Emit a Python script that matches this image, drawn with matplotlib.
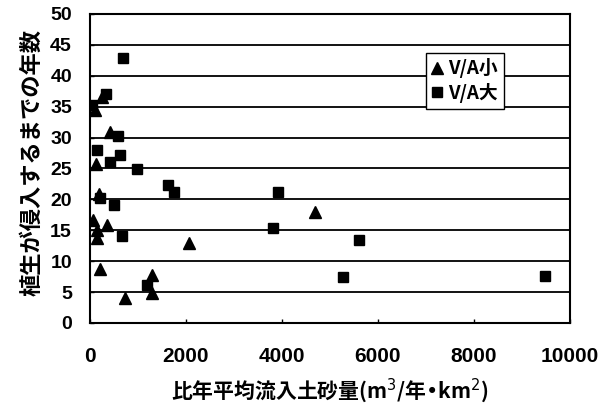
import matplotlib
matplotlib.use("Agg")
import matplotlib.pyplot as plt

plt.rcParams['font.family'] = ['Noto Sans CJK JP', 'DejaVu Sans']

# V/A small (triangles)
small_x = [243, 104, 417, 125, 187, 69, 347, 139, 139, 2069, 4688, 208, 1285, 1285, 729]
small_y = [36.6, 34.5, 30.9, 25.8, 20.8, 16.6, 15.9, 15.0, 13.8, 13.0, 18.0, 8.8, 7.8, 4.8, 4.0]

# V/A large (squares)
large_x = [694, 333, 35, 590, 139, 625, 417, 972, 1618, 1757, 200, 507, 660, 1181,
           3924, 3819, 5604, 5278, 9479]
large_y = [42.8, 37.0, 35.2, 30.2, 28.0, 27.2, 26.0, 24.9, 22.3, 21.2, 20.2, 19.1, 14.0, 6.1,
           21.2, 15.3, 13.4, 7.5, 7.6]

x_ticks = [0, 2000, 4000, 6000, 8000, 10000]
y_ticks = [0, 5, 10, 15, 20, 25, 30, 35, 40, 45, 50]

fig = plt.figure(figsize=(6.08, 4.09), dpi=100)
ax = fig.add_axes([0.148, 0.2103, 0.7895, 0.7555])

for yv in y_ticks[1:-1]:
    ax.axhline(yv, color='black', linewidth=1.3, zorder=1)

ax.plot(small_x, small_y, linestyle='none', marker='^', markersize=9,
        color='black', label='V/A小', zorder=3)
ax.plot(large_x, large_y, linestyle='none', marker='s', markersize=7,
        color='black', label='V/A大', zorder=3)

ax.set_xlim(0, 10000)
ax.set_ylim(0, 50)
ax.set_xticks(x_ticks)
ax.set_yticks(y_ticks)
ax.set_xticklabels([str(v) for v in x_ticks], family=['Liberation Sans', 'DejaVu Sans'],
                   weight='bold', size=15)
ax.set_yticklabels([str(v) for v in y_ticks], family=['Liberation Sans', 'DejaVu Sans'],
                   weight='bold', size=14)
ax.tick_params(axis='both', direction='in', length=3, width=1, color='black')
ax.tick_params(axis='x', pad=17)
ax.tick_params(axis='y', pad=13)

for sp in ax.spines.values():
    sp.set_linewidth(1.5)
    sp.set_color('black')

ax.set_xlabel('比年平均流入土砂量(m$^3$/年•km$^2$)', fontsize=15, fontweight='bold', labelpad=8)
ax.set_ylabel('植生が侵入するまでの年数', fontsize=16, fontweight='bold')
ax.yaxis.set_label_coords((43 - 90) / 480, 0.52)

leg = ax.legend(loc='upper left', bbox_to_anchor=(0.70, 0.875), frameon=True, fancybox=False,
                edgecolor='black', fontsize=13.5, handlelength=0.6, handletextpad=0.3,
                borderpad=0.3, labelspacing=0.25, borderaxespad=0)
leg.get_frame().set_linewidth(1.0)
leg.get_frame().set_alpha(1.0)
for t in leg.get_texts():
    t.set_fontweight('bold')

fig.savefig('out.png', dpi=100)
